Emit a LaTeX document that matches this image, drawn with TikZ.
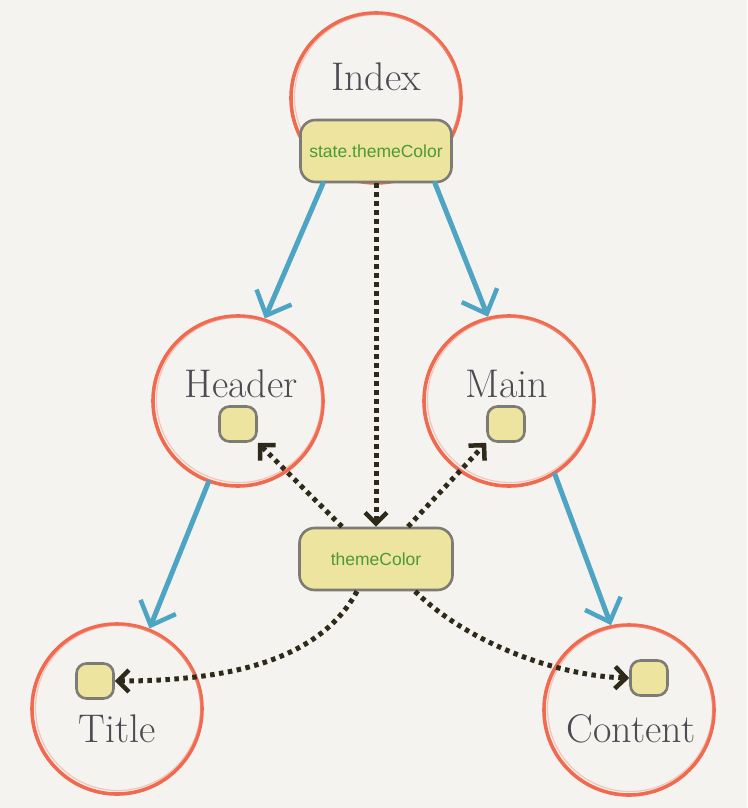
\documentclass[tikz,border=0pt]{standalone}
\usepackage{fontspec}
\newfontfamily\boxfont{Liberation Sans}
\usetikzlibrary{arrows.meta,calc}
\definecolor{bg}{HTML}{F5F3F0}
\definecolor{ring}{HTML}{EF6A4F}
\definecolor{flow}{HTML}{4EA5C3}
\definecolor{boxfill}{HTML}{EDE4A0}
\definecolor{boxline}{HTML}{7C7B74}
\definecolor{txtgreen}{HTML}{4C9A34}
\definecolor{dotc}{HTML}{2E2A1A}
\definecolor{lblc}{HTML}{4B4B52}
\tikzset{
  ring/.style={circle,draw=ring,line width=3.6pt,minimum size=170pt,inner sep=0pt},
  ringb/.style={circle,draw=ring!70,line width=1.2pt,minimum size=165pt,inner sep=0pt,opacity=0.5},
  lbl/.style={text=lblc,font=\fontsize{40}{42}\selectfont,anchor=base,inner sep=0pt},
  bigbox/.style={rectangle,rounded corners=15pt,draw=boxline,line width=2.6pt,fill=boxfill,
    minimum width=151pt,minimum height=62pt,inner sep=0pt,text=txtgreen,
    font=\boxfont\fontsize{17.5}{20}\selectfont},
  smallbox/.style={rectangle,rounded corners=10pt,draw=boxline,line width=2.6pt,fill=boxfill,
    minimum width=37pt,minimum height=35pt,inner sep=0pt},
  flowarrow/.style={draw=flow,line width=5pt,line cap=round,
    -{Straight Barb[length=20pt,width=38pt,line width=4.5pt]}},
  dotarrow/.style={draw=dotc,line width=5pt,dash pattern=on 4.5pt off 4.5pt,
    -{Straight Barb[length=11pt,width=22pt,line width=4.5pt]}}
}
\begin{document}
\begin{tikzpicture}[x=1pt,y=-1pt]
\fill[bg] (0,0) rectangle (747,808);
\useasboundingbox (0,0) rectangle (747,808);
% circles
\node[ring] (index) at (376,98) {};
\node[ringb] at (377,97) {};
\node[ring] (header) at (238,401) {};
\node[ringb] at (239,400) {};
\node[ring] (main) at (509,401) {};
\node[ringb] at (510,400) {};
\node[ring] (title) at (117,709) {};
\node[ringb] at (118,708) {};
\node[ring] (content) at (629,710) {};
\node[ringb] at (630,709) {};
% labels
\node[lbl] (indexl) at (376,90) {Index};
\node[lbl] (headerl) at (241,397) {Header};
\node[lbl] (mainl) at (507,397) {Main};
\node[lbl] (titlel) at (117,742) {Title};
\node[lbl] (contentl) at (631,742) {Content};
% boxes
\node[bigbox] (state) at (376,151) {state.themeColor};
\node[bigbox,minimum width=153pt] (theme) at (376,559) {themeColor};
\node[smallbox] (hbox) at (238,424) {};
\node[smallbox] (mbox) at (506,424) {};
\node[smallbox] (tbox) at (95,681) {};
\node[smallbox] (cbox) at (649,678) {};
% blue flow arrows
\draw[flowarrow] ($(state.south)+(-53,0)$) -- (header.72);
\draw[flowarrow] ($(state.south)+(59,0)$) -- (main.104);
\draw[flowarrow] (header.250) -- (title.68);
\draw[flowarrow] (main.302) -- (content.102);
% dotted data arrows
\draw[dotarrow] (state.south) -- (theme.north);
\draw[dotarrow] ($(theme.north)+(-34,0)$) -- (hbox.south east);
\draw[dotarrow] ($(theme.north)+(32,0)$) -- (mbox.south west);
\draw[dotarrow] ($(theme.south)+(-19,0)$) .. controls (320,660) and (230,681) .. (tbox.east);
\draw[dotarrow] ($(theme.south)+(39,0)$) .. controls (470,645) and (560,676) .. (cbox.west);
\end{tikzpicture}
\end{document}
